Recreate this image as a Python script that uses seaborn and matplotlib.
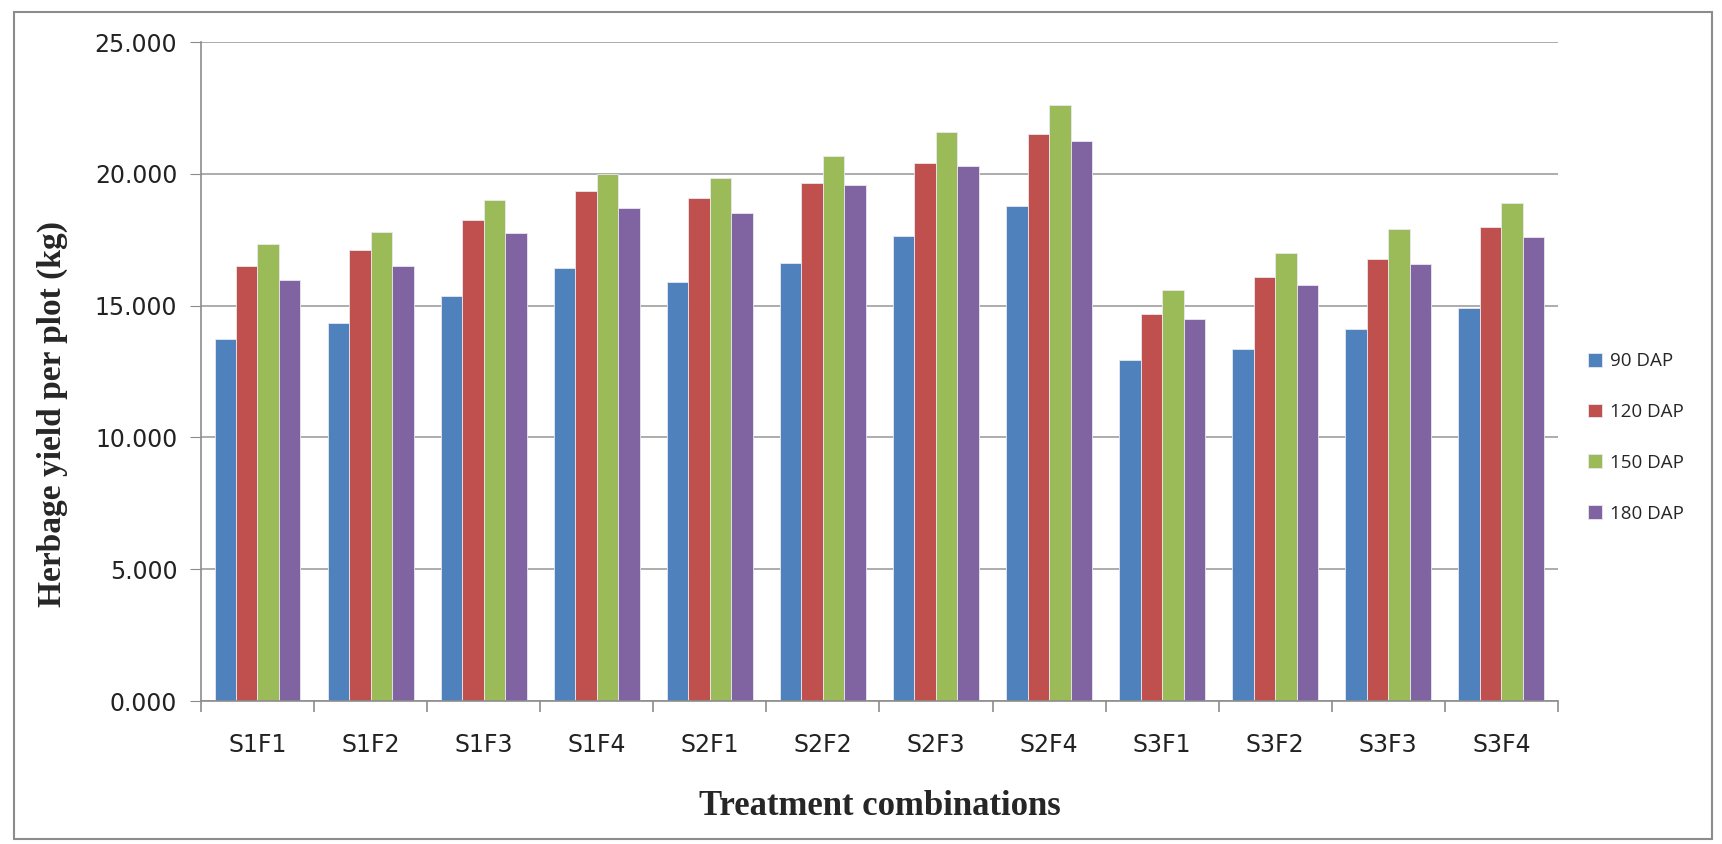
import numpy as np
import pandas as pd
import seaborn as sns
import matplotlib.pyplot as plt
from matplotlib.patches import Rectangle

# --- data ---
treatments = ["S1F1", "S1F2", "S1F3", "S1F4", "S2F1", "S2F2",
              "S2F3", "S2F4", "S3F1", "S3F2", "S3F3", "S3F4"]
dap_90 = [13.75, 14.33, 15.36, 16.42, 15.89, 16.61, 17.64, 18.80, 12.95, 13.37, 14.10, 14.91]
dap_120 = [16.52, 17.12, 18.27, 19.35, 19.10, 19.67, 20.41, 21.53, 14.68, 16.08, 16.76, 18.00]
dap_150 = [17.34, 17.79, 19.00, 20.00, 19.83, 20.70, 21.59, 22.61, 15.59, 17.01, 17.90, 18.90]
dap_180 = [15.99, 16.52, 17.75, 18.71, 18.51, 19.57, 20.32, 21.25, 14.49, 15.80, 16.57, 17.60]
series = ["90 DAP", "120 DAP", "150 DAP", "180 DAP"]
colors = ["#4F81BD", "#C0504D", "#9BBB59", "#8064A2"]

df = pd.DataFrame({"treatment": treatments * 4,
                   "dap": np.repeat(series, len(treatments)),
                   "yield": dap_90 + dap_120 + dap_150 + dap_180})

sns.set_style("white")
plt.rcParams['font.family'] = ['DejaVu Sans']

fig = plt.figure(figsize=(17.22, 8.44), dpi=100)
ax = fig.add_axes([0.1167, 0.1694, 0.788, 0.7806])

sns.barplot(data=df, x="treatment", y="yield", hue="dap", order=treatments,
            hue_order=series, palette=colors, width=0.76, ax=ax,
            edgecolor="#e8e8f0", linewidth=0.6, saturation=1)

# axes styling (Excel look)
ax.set_ylim(0, 25)
ax.set_xlim(-0.5, len(treatments) - 0.5)
ax.set_yticks(np.arange(0, 26, 5))
ax.set_yticklabels([f"{v:.3f}" for v in np.arange(0, 26, 5)], fontsize=17, color="#222222")
ax.yaxis.grid(True, color="#a6a6a6", linewidth=1.3)
ax.set_axisbelow(True)
for side in ["top", "right"]:
    ax.spines[side].set_visible(False)
for side in ["left", "bottom"]:
    ax.spines[side].set_color("#8c8c8c")
    ax.spines[side].set_linewidth(1.2)
ax.tick_params(axis="y", which="major", left=True, length=8, color="#8c8c8c", pad=9)
ax.tick_params(axis="x", which="major", bottom=False, length=0, pad=23, labelsize=17,
               labelcolor="#222222")
ax.set_xticks(np.arange(-0.5, len(treatments), 1), minor=True)
ax.tick_params(axis="x", which="minor", bottom=True, length=8, color="#8c8c8c", width=1.2)

ax.set_xlabel("Treatment combinations", family="Liberation Serif", fontweight="bold",
              fontsize=25)
ax.xaxis.set_label_coords(0.5, -0.135)
ax.set_ylabel("Herbage yield per plot (kg)", family="Liberation Serif", fontweight="bold",
              fontsize=24)
ax.yaxis.set_label_coords(-0.098, 0.436)

ax.legend(loc="center left", bbox_to_anchor=(1.01, 0.40), frameon=False,
          prop={"family": "Open Sans", "size": 13.5},
          handlelength=0.75, handleheight=0.75, handletextpad=0.4, labelspacing=1.75)

# outer chart frame
fig.patches.append(Rectangle((0.008, 0.006), 0.986, 0.98, transform=fig.transFigure,
                             fill=False, edgecolor="#8c8c8c", linewidth=1.5))

fig.savefig("out.png", dpi=100)
